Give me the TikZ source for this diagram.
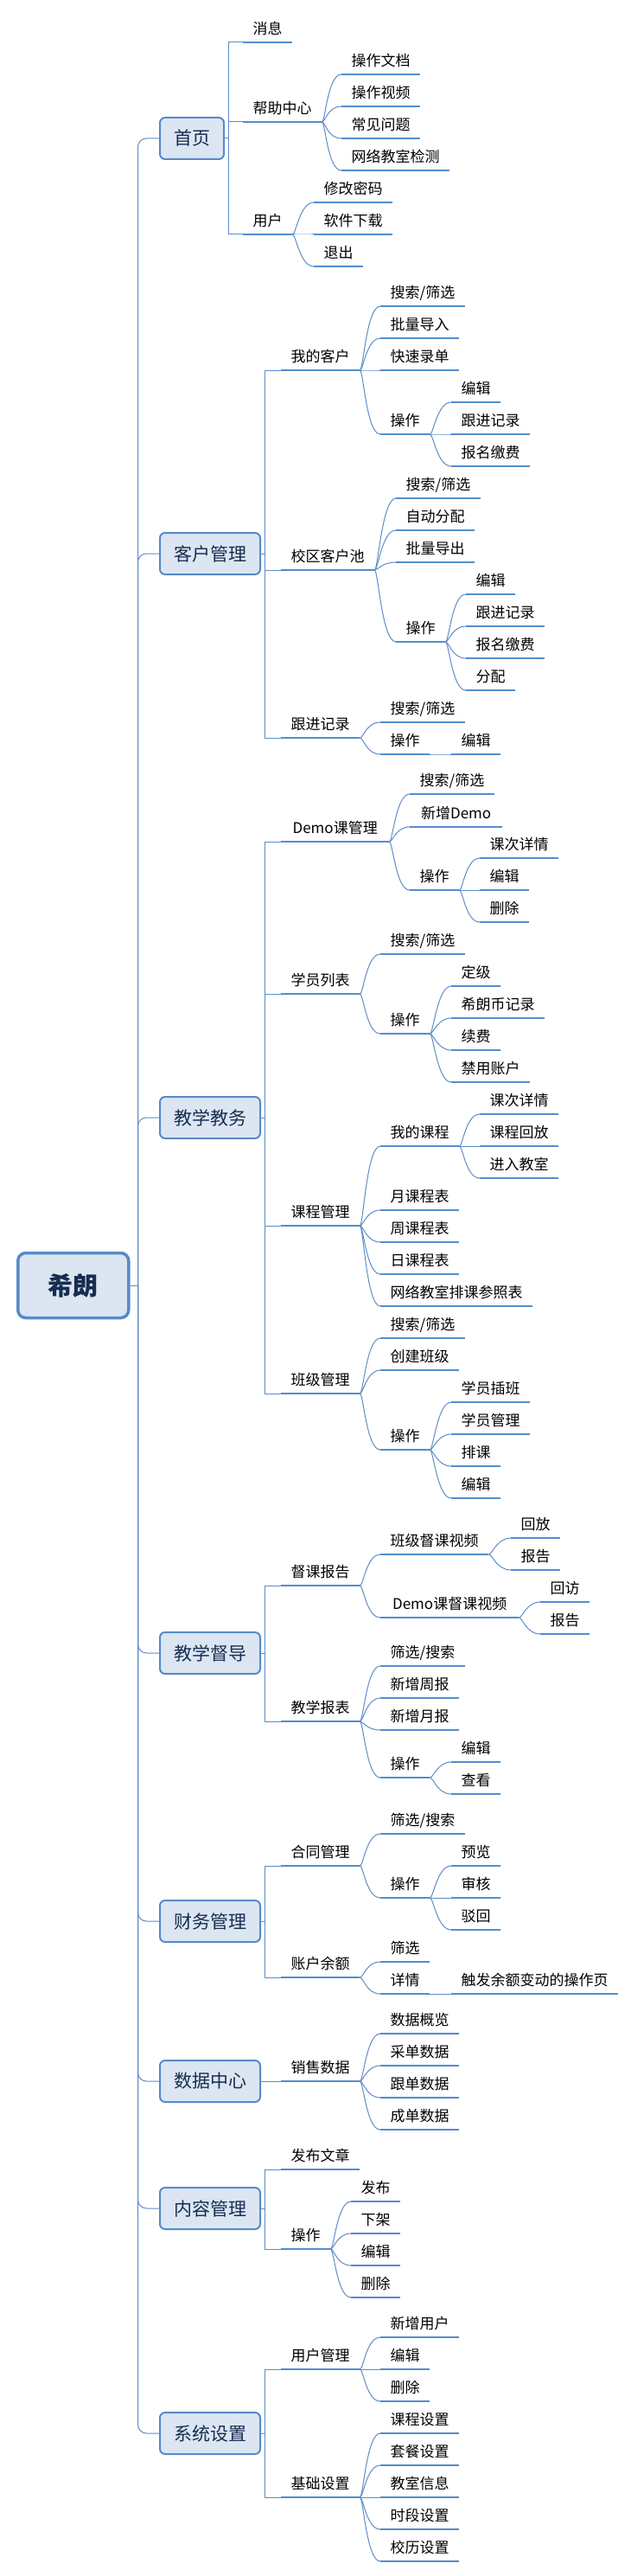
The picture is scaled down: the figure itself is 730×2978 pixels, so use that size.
\documentclass[tikz,border=0pt]{standalone}
\usepackage{fontspec}
\setmainfont{Noto Sans CJK SC}
\definecolor{mmbar}{RGB}{84,141,204}
\definecolor{mmline}{RGB}{95,140,198}
\definecolor{mmfill}{RGB}{220,230,242}
\definecolor{mmborder}{RGB}{88,138,200}
\definecolor{mmnavy}{RGB}{23,45,80}
\tikzset{
  mmlbl/.style={anchor=south west, inner xsep=11.5pt, inner ysep=0pt, text height=14pt, text depth=9pt, font=\fontsize{17}{20}\selectfont},
  mmbarline/.style={draw=mmbar, line width=2.6pt},
  mmconn/.style={draw=mmline, line width=1pt},
  topbox/.style={anchor=west, draw=mmborder, line width=2pt, fill=mmfill, rounded corners=6pt, inner xsep=16pt, minimum height=48pt, text=mmnavy, font=\fontsize{21}{24}\selectfont},
  rootbox/.style={anchor=west, draw=mmborder, line width=3.5pt, fill=mmfill, rounded corners=9pt, minimum width=128pt, minimum height=75pt, text=mmnavy, font=\fontsize{29}{32}\selectfont\bfseries}
}
% leaf with curved connector: [opts]{parent}{name}{x}{y}{text}
\newcommand\mmkid[6][]{%
  \node[mmlbl,#1] (#3) at (#4,#5) {#6};
  \draw[mmbarline] (#3.south west) -- (#3.south east);
  \draw[mmconn] (#2.south east) .. controls +(4,0) and +(-16,0) .. (#3.south west);
}
% second-level item with elbow connector: [opts]{junction}{name}{x}{y}{text}
\newcommand\mmsub[6][]{%
  \node[mmlbl,#1] (#3) at (#4,#5) {#6};
  \draw[mmbarline] (#3.south west) -- (#3.south east);
  \draw[mmconn] (#2) |- (#3.south west);
}
% first-level box: {name}{y}{text}
\newcommand\mmtop[3]{%
  \node[topbox] (#1) at (184,#2) {#3};
  \coordinate (#1J) at ([xshift=4pt]#1.east);
  \draw[mmconn] (#1.east) -- (#1J);
  \draw[mmconn,rounded corners=10pt] (trunk) |- (#1.west);
}
\begin{document}
\begin{tikzpicture}[x=1pt,y=-1pt]
\useasboundingbox (0,0) rectangle (730,2978);
\fill[white] (0,0) rectangle (730,2978);

\node[rootbox] (root) at (19,1486) {希朗};
\coordinate (trunk) at ([xshift=9pt]root.east);
\draw[mmconn] (root.east) -- (trunk);

% 首页
\mmtop{home}{160}{首页}
\mmsub{homeJ}{hA}{281}{49}{消息}
\mmsub{homeJ}{hB}{281}{141}{帮助中心}
\mmkid{hB}{hB1}{395}{86}{操作文档}
\mmkid{hB}{hB2}{395}{123}{操作视频}
\mmkid{hB}{hB3}{395}{160}{常见问题}
\mmkid{hB}{hB4}{395}{197}{网络教室检测}
\mmsub{homeJ}{hC}{281}{271}{用户}
\mmkid{hC}{hC1}{363}{234}{修改密码}
\mmkid{hC}{hC2}{363}{271}{软件下载}
\mmkid{hC}{hC3}{363}{308}{退出}

% 客户管理
\mmtop{cust}{640}{客户管理}
\mmsub{custJ}{cA}{325}{428}{我的客户}
\mmkid{cA}{cA1}{440}{354}{搜索/筛选}
\mmkid{cA}{cA2}{440}{391}{批量导入}
\mmkid{cA}{cA3}{440}{428}{快速录单}
\mmkid{cA}{cA4}{440}{502}{操作}
\mmkid{cA4}{cA41}{522}{465}{编辑}
\mmkid{cA4}{cA42}{522}{502}{跟进记录}
\mmkid{cA4}{cA43}{522}{539}{报名缴费}
\mmsub{custJ}{cB}{325}{659}{校区客户池}
\mmkid{cB}{cB1}{458}{576}{搜索/筛选}
\mmkid{cB}{cB2}{458}{613}{自动分配}
\mmkid{cB}{cB3}{458}{650}{批量导出}
\mmkid{cB}{cB4}{458}{742}{操作}
\mmkid{cB4}{cB41}{539}{687}{编辑}
\mmkid{cB4}{cB42}{539}{724}{跟进记录}
\mmkid{cB4}{cB43}{539}{761}{报名缴费}
\mmkid{cB4}{cB44}{539}{798}{分配}
\mmsub{custJ}{cC}{325}{853}{跟进记录}
\mmkid{cC}{cC1}{440}{835}{搜索/筛选}
\mmkid{cC}{cC2}{440}{872}{操作}
\mmkid{cC2}{cC21}{522}{872}{编辑}

% 教学教务
\mmtop{teach}{1292}{教学教务}
\mmsub[minimum width=125pt]{teachJ}{tA}{325}{973}{Demo课管理}
\mmkid{tA}{tA1}{474}{918}{搜索/筛选}
\mmkid[minimum width=107pt]{tA}{tA2}{474}{956}{新增Demo}
\mmkid{tA}{tA3}{474}{1029}{操作}
\mmkid{tA3}{tA31}{555}{992}{课次详情}
\mmkid{tA3}{tA32}{555}{1029}{编辑}
\mmkid{tA3}{tA33}{555}{1066}{删除}
\mmsub{teachJ}{tB}{325}{1149}{学员列表}
\mmkid{tB}{tB1}{440}{1103}{搜索/筛选}
\mmkid{tB}{tB2}{440}{1195}{操作}
\mmkid{tB2}{tB21}{522}{1140}{定级}
\mmkid{tB2}{tB22}{522}{1177}{希朗币记录}
\mmkid{tB2}{tB23}{522}{1214}{续费}
\mmkid{tB2}{tB24}{522}{1251}{禁用账户}
\mmsub{teachJ}{tC}{325}{1417}{课程管理}
\mmkid{tC}{tC1}{440}{1325}{我的课程}
\mmkid{tC1}{tC11}{555}{1288}{课次详情}
\mmkid{tC1}{tC12}{555}{1325}{课程回放}
\mmkid{tC1}{tC13}{555}{1362}{进入教室}
\mmkid{tC}{tC2}{440}{1399}{月课程表}
\mmkid{tC}{tC3}{440}{1436}{周课程表}
\mmkid{tC}{tC4}{440}{1473}{日课程表}
\mmkid{tC}{tC5}{440}{1510}{网络教室排课参照表}
\mmsub{teachJ}{tD}{325}{1611}{班级管理}
\mmkid{tD}{tD1}{440}{1547}{搜索/筛选}
\mmkid{tD}{tD2}{440}{1584}{创建班级}
\mmkid{tD}{tD3}{440}{1676}{操作}
\mmkid{tD3}{tD31}{522}{1621}{学员插班}
\mmkid{tD3}{tD32}{522}{1658}{学员管理}
\mmkid{tD3}{tD33}{522}{1695}{排课}
\mmkid{tD3}{tD34}{522}{1732}{编辑}

% 教学督导
\mmtop{supv}{1911}{教学督导}
\mmsub{supvJ}{sA}{325}{1833}{督课报告}
\mmkid{sA}{sA1}{440}{1797}{班级督课视频}
\mmkid{sA1}{sA11}{591}{1778}{回放}
\mmkid{sA1}{sA12}{591}{1815}{报告}
\mmkid[minimum width=160pt]{sA}{sA2}{440}{1870}{Demo课督课视频}
\mmkid{sA2}{sA21}{625}{1852}{回访}
\mmkid{sA2}{sA22}{625}{1889}{报告}
\mmsub{supvJ}{sB}{325}{1990}{教学报表}
\mmkid{sB}{sB1}{440}{1926}{筛选/搜索}
\mmkid{sB}{sB2}{440}{1963}{新增周报}
\mmkid{sB}{sB3}{440}{2000}{新增月报}
\mmkid{sB}{sB4}{440}{2055}{操作}
\mmkid{sB4}{sB41}{522}{2037}{编辑}
\mmkid{sB4}{sB42}{522}{2074}{查看}

% 财务管理
\mmtop{fin}{2221}{财务管理}
\mmsub{finJ}{fA}{325}{2157}{合同管理}
\mmkid{fA}{fA1}{440}{2120}{筛选/搜索}
\mmkid{fA}{fA2}{440}{2194}{操作}
\mmkid{fA2}{fA21}{522}{2157}{预览}
\mmkid{fA2}{fA22}{522}{2194}{审核}
\mmkid{fA2}{fA23}{522}{2231}{驳回}
\mmsub{finJ}{fB}{325}{2286}{账户余额}
\mmkid{fB}{fB1}{440}{2268}{筛选}
\mmkid{fB}{fB2}{440}{2305}{详情}
\mmkid{fB2}{fB21}{522}{2305}{触发余额变动的操作页}

% 数据中心
\mmtop{data}{2406}{数据中心}
\mmsub{dataJ}{dA}{325}{2406}{销售数据}
\mmkid{dA}{dA1}{440}{2351}{数据概览}
\mmkid{dA}{dA2}{440}{2388}{采单数据}
\mmkid{dA}{dA3}{440}{2425}{跟单数据}
\mmkid{dA}{dA4}{440}{2462}{成单数据}

% 内容管理
\mmtop{cont}{2553}{内容管理}
\mmsub{contJ}{nA}{325}{2508}{发布文章}
\mmsub{contJ}{nB}{325}{2600}{操作}
\mmkid{nB}{nB1}{406}{2545}{发布}
\mmkid{nB}{nB2}{406}{2582}{下架}
\mmkid{nB}{nB3}{406}{2619}{编辑}
\mmkid{nB}{nB4}{406}{2656}{删除}

% 系统设置
\mmtop{sys}{2813}{系统设置}
\mmsub{sysJ}{yA}{325}{2739}{用户管理}
\mmkid{yA}{yA1}{440}{2702}{新增用户}
\mmkid{yA}{yA2}{440}{2739}{编辑}
\mmkid{yA}{yA3}{440}{2776}{删除}
\mmsub{sysJ}{yB}{325}{2887}{基础设置}
\mmkid{yB}{yB1}{440}{2813}{课程设置}
\mmkid{yB}{yB2}{440}{2850}{套餐设置}
\mmkid{yB}{yB3}{440}{2887}{教室信息}
\mmkid{yB}{yB4}{440}{2924}{时段设置}
\mmkid{yB}{yB5}{440}{2961}{校历设置}
\end{tikzpicture}
\end{document}
